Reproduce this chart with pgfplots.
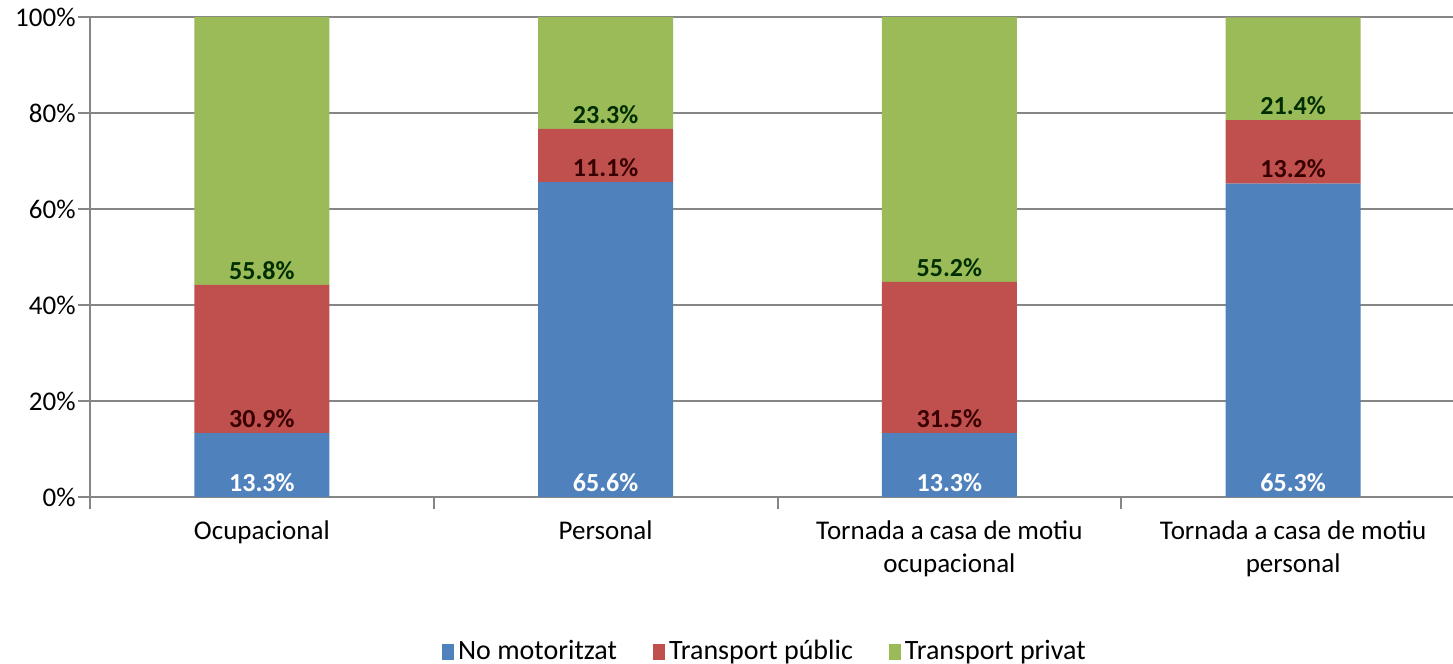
\documentclass[border=0pt]{standalone}
\usepackage{fontspec}
\setmainfont{Carlito}
\usepackage{pgfplots}
\usepackage{pgfplotstable}
\pgfplotsset{compat=1.18}
\definecolor{cblue}{HTML}{4F81BD}
\definecolor{cred}{HTML}{C0504D}
\definecolor{cgreen}{HTML}{9BBB59}
\definecolor{gridgray}{HTML}{868686}

% x: category, no: no motoritzat, pub: transport public, priv: transport privat
\pgfplotstableread{
x no   pub  priv
0 13.3 30.9 55.8
1 65.6 11.1 23.3
2 13.3 31.5 55.2
3 65.3 13.2 21.4
}\modedata
% bases of the segments, for the labels
\pgfplotstablecreatecol[expr={\thisrow{no}}]{bpub}\modedata
\pgfplotstablecreatecol[expr={\thisrow{no}+\thisrow{pub}}]{bpriv}\modedata

\pgfplotsset{
  frame/.style={
    at={(0,0)}, anchor=south west,
    scale only axis,
    width=687.5pt, height=240pt,
    xmin=-0.5, xmax=3.5,
    ymin=0, ymax=100,
  },
  seglabel/.style={
    draw=none, no markers,
    point meta=explicit symbolic,
    nodes near coords={\pgfplotspointmeta\%},
    every node near coord/.style={anchor=south, inner sep=2.5pt,
      font=\fontsize{13}{15}\selectfont\bfseries, text=#1},
  },
}

\begin{document}
\fontsize{13.5}{16}\selectfont
\begin{tikzpicture}
% the right edge of the plot is cut off as in the reference
\path[use as bounding box] (-45pt,-83.5pt) rectangle (681.5pt,248.5pt);
\begin{axis}[
    frame,
    ybar stacked,
    bar width=67.5pt,
    axis x line*=bottom, axis y line*=left,
    axis line style={gridgray, line width=1pt, -},
    tick align=outside,
    major tick length=6pt,
    tick style={gridgray, line width=1pt},
    xtick={-0.5,0.5,1.5,2.5,3.5},
    xticklabels={},
    extra x ticks={0,1,2,3},
    extra x tick labels={Ocupacional, Personal, Tornada a casa de motiu\\ocupacional, Tornada a casa de motiu\\personal},
    extra x tick style={major tick length=0pt, xticklabel style={align=center, font=\fontsize{13.5}{16.5}\selectfont, yshift=-7pt}},
    ytick={0,20,40,60,80,100},
    yticklabel={\pgfmathprintnumber{\tick}\%},
    yticklabel style={xshift=3.5pt},
    /pgf/number format/assume math mode=true,
    ymajorgrids=true,
    grid style={gridgray, line width=1pt},
    legend style={at={(0.4916,-0.322)}, anchor=center, draw=none, legend columns=3,
      /tikz/every even column/.append style={column sep=16pt},
      font=\fontsize{14}{16}\selectfont},
    legend image code/.code={\fill[#1] (0pt,-4pt) rectangle (6pt,4pt);},
]
\addplot[fill=cblue, draw=none] table[x=x, y=no] {\modedata};
\addlegendentry{No motoritzat}
\addplot[fill=cred, draw=none] table[x=x, y=pub] {\modedata};
\addlegendentry{Transport públic}
\addplot[fill=cgreen, draw=none] table[x=x, y=priv] {\modedata};
\addlegendentry{Transport privat}
\end{axis}
\begin{axis}[frame, hide axis]
\addplot[seglabel=white] table[x=x, y expr=0, meta=no] {\modedata};
\addplot[seglabel=black!78!red] table[x=x, y=bpub, meta=pub] {\modedata};
\addplot[seglabel=black!82!green] table[x=x, y=bpriv, meta=priv] {\modedata};
\end{axis}
\end{tikzpicture}
\end{document}
